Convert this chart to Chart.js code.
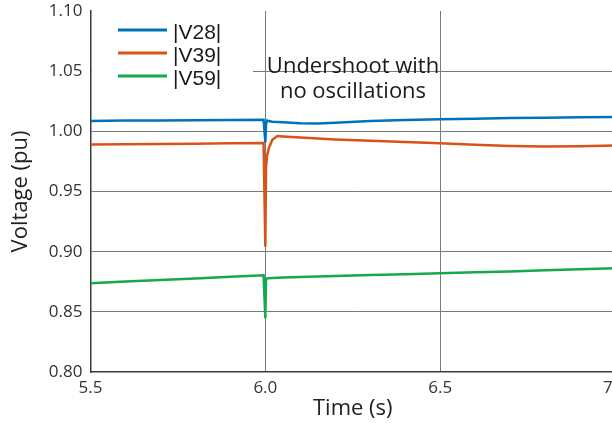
<!DOCTYPE html>
<html>
<head>
<meta charset="utf-8">
<script src="https://cdn.jsdelivr.net/npm/chart.js@4.4.1/dist/chart.umd.min.js"></script>
<style>
  html, body { margin: 0; padding: 0; background: #fff; overflow: hidden; }
  #wrap { width: 630px; height: 423px; }
</style>
</head>
<body>
<div id="wrap"><canvas id="voltageChart" width="630" height="423"></canvas></div>
<script>
// Time axis (s) and bus voltage magnitudes (pu)
const timeSec = [5.5, 5.6, 5.7, 5.8, 5.9, 5.995, 6.0, 6.002, 6.005, 6.01, 6.02, 6.035, 6.05, 6.1, 6.15, 6.2, 6.3, 6.4, 6.5, 6.6, 6.7, 6.8, 6.9, 7.0];
const v28 = [1.0086, 1.0089, 1.0091, 1.0093, 1.0095, 1.0097, 0.9910, 1.0060, 1.0090, 1.0085, 1.0080, 1.0078, 1.0075, 1.0068, 1.0066, 1.0072, 1.0085, 1.0094, 1.0100, 1.0105, 1.0110, 1.0113, 1.0116, 1.0120];
const v39 = [0.9890, 0.9892, 0.9895, 0.9897, 0.9900, 0.9903, 0.9040, 0.9700, 0.9800, 0.9860, 0.9930, 0.9961, 0.9958, 0.9948, 0.9940, 0.9932, 0.9922, 0.9912, 0.9900, 0.9888, 0.9878, 0.9873, 0.9876, 0.9882];
const v59 = [0.8738, 0.8752, 0.8765, 0.8778, 0.8791, 0.8804, 0.8447, 0.8770, 0.8778, 0.8780, 0.8782, 0.8784, 0.8786, 0.8790, 0.8794, 0.8798, 0.8806, 0.8813, 0.8820, 0.8828, 0.8836, 0.8845, 0.8853, 0.8862];

const seriesLabels = ['|V28|', '|V39|', '|V59|'];
const seriesColors = ['#0072bd', '#d95319', '#14a94d'];
const xTicks = [5.5, 6.0, 6.5, 7.0];
const yTicks = [0.80, 0.85, 0.90, 0.95, 1.00, 1.05, 1.10];
const noteLines = ['Undershoot with', 'no oscillations'];

function toPoints(values) {
    return timeSec.map((t, i) => ({ x: t, y: values[i] }));
}

// legend sits inside the plot, on a white box
const insideLegend = {
    id: 'insideLegend',
    afterDatasetsDraw(chart) {
        const c = chart.ctx;
        c.save();
        c.fillStyle = '#fff';
        c.fillRect(92, 12, 161, 77);
        seriesLabels.forEach((label, i) => {
            const y = 30 + i * 23;
            c.strokeStyle = seriesColors[i];
            c.lineWidth = 3;
            c.beginPath();
            c.moveTo(118, y);
            c.lineTo(167, y);
            c.stroke();
            c.fillStyle = '#1a1a1a';
            c.font = '21px "Liberation Sans", Arial, sans-serif';
            c.textBaseline = 'middle';
            c.textAlign = 'left';
            c.fillText(label, 173, y + 3);
        });
        c.restore();
    }
};

const noteText = {
    id: 'noteText',
    afterDatasetsDraw(chart) {
        const c = chart.ctx;
        c.save();
        c.fillStyle = '#1a1a1a';
        c.font = '22px "Open Sans", sans-serif';
        c.textAlign = 'center';
        c.textBaseline = 'alphabetic';
        noteLines.forEach((line, i) => c.fillText(line, 353, 73 + i * 25));
        c.restore();
    }
};

function renderVoltageChart() {
    const ctx = document.getElementById('voltageChart');
    new Chart(ctx, {
        type: 'line',
        data: {
            datasets: [v28, v39, v59].map((vals, i) => ({
                label: seriesLabels[i],
                data: toPoints(vals),
                borderColor: seriesColors[i],
                backgroundColor: seriesColors[i],
                borderWidth: 2.5,
                pointRadius: 0,
                tension: 0,
                fill: false
            }))
        },
        options: {
            responsive: false,
            animation: false,
            layout: { padding: { left: 0, top: 11, right: 15, bottom: 0 } },
            plugins: {
                legend: { display: false },
                tooltip: { enabled: false }
            },
            scales: {
                x: {
                    type: 'linear',
                    min: 5.5,
                    max: 7.0,
                    afterBuildTicks: scale => { scale.ticks = xTicks.map(v => ({ value: v })); },
                    afterFit: scale => {
                        scale.height = 51;
                        scale.paddingLeft = 0;
                        scale.paddingRight = 0;
                    },
                    ticks: {
                        padding: 6,
                        color: '#333',
                        font: { family: 'Open Sans', size: 17 },
                        maxRotation: 0,
                        callback: v => Number(v).toFixed(1)
                    },
                    grid: {
                        drawTicks: false,
                        lineWidth: 1,
                        color: c => (c.tick && Math.abs(c.tick.value - 5.5) < 1e-6) ? 'rgba(0,0,0,0)' : '#7a7a7a'
                    },
                    border: { color: '#3a3a3a', width: 1.5 },
                    title: {
                        display: true,
                        text: 'Time (s)',
                        color: '#222',
                        font: { family: 'Open Sans', size: 22 },
                        padding: { top: 0, bottom: 1 }
                    }
                },
                y: {
                    min: 0.80,
                    max: 1.10,
                    afterBuildTicks: scale => { scale.ticks = yTicks.map(v => ({ value: v })); },
                    afterFit: scale => {
                        scale.width = 90.5;
                        scale.paddingTop = 0;
                        scale.paddingBottom = 0;
                    },
                    ticks: {
                        padding: 8,
                        color: '#333',
                        font: { family: 'Open Sans', size: 17 },
                        callback: v => Number(v).toFixed(2)
                    },
                    grid: {
                        drawTicks: false,
                        lineWidth: 1,
                        color: c => {
                            const v = c.tick ? c.tick.value : 0;
                            return (Math.abs(v - 0.80) < 1e-6 || Math.abs(v - 1.10) < 1e-6) ? 'rgba(0,0,0,0)' : '#7a7a7a';
                        }
                    },
                    border: { color: '#3a3a3a', width: 1.5 },
                    title: {
                        display: true,
                        text: 'Voltage (pu)',
                        color: '#222',
                        font: { family: 'Open Sans', size: 22 },
                        padding: { top: 8, bottom: 0 }
                    }
                }
            }
        },
        plugins: [insideLegend, noteText]
    });
}

document.addEventListener('DOMContentLoaded', renderVoltageChart);
</script>
</body>
</html>
